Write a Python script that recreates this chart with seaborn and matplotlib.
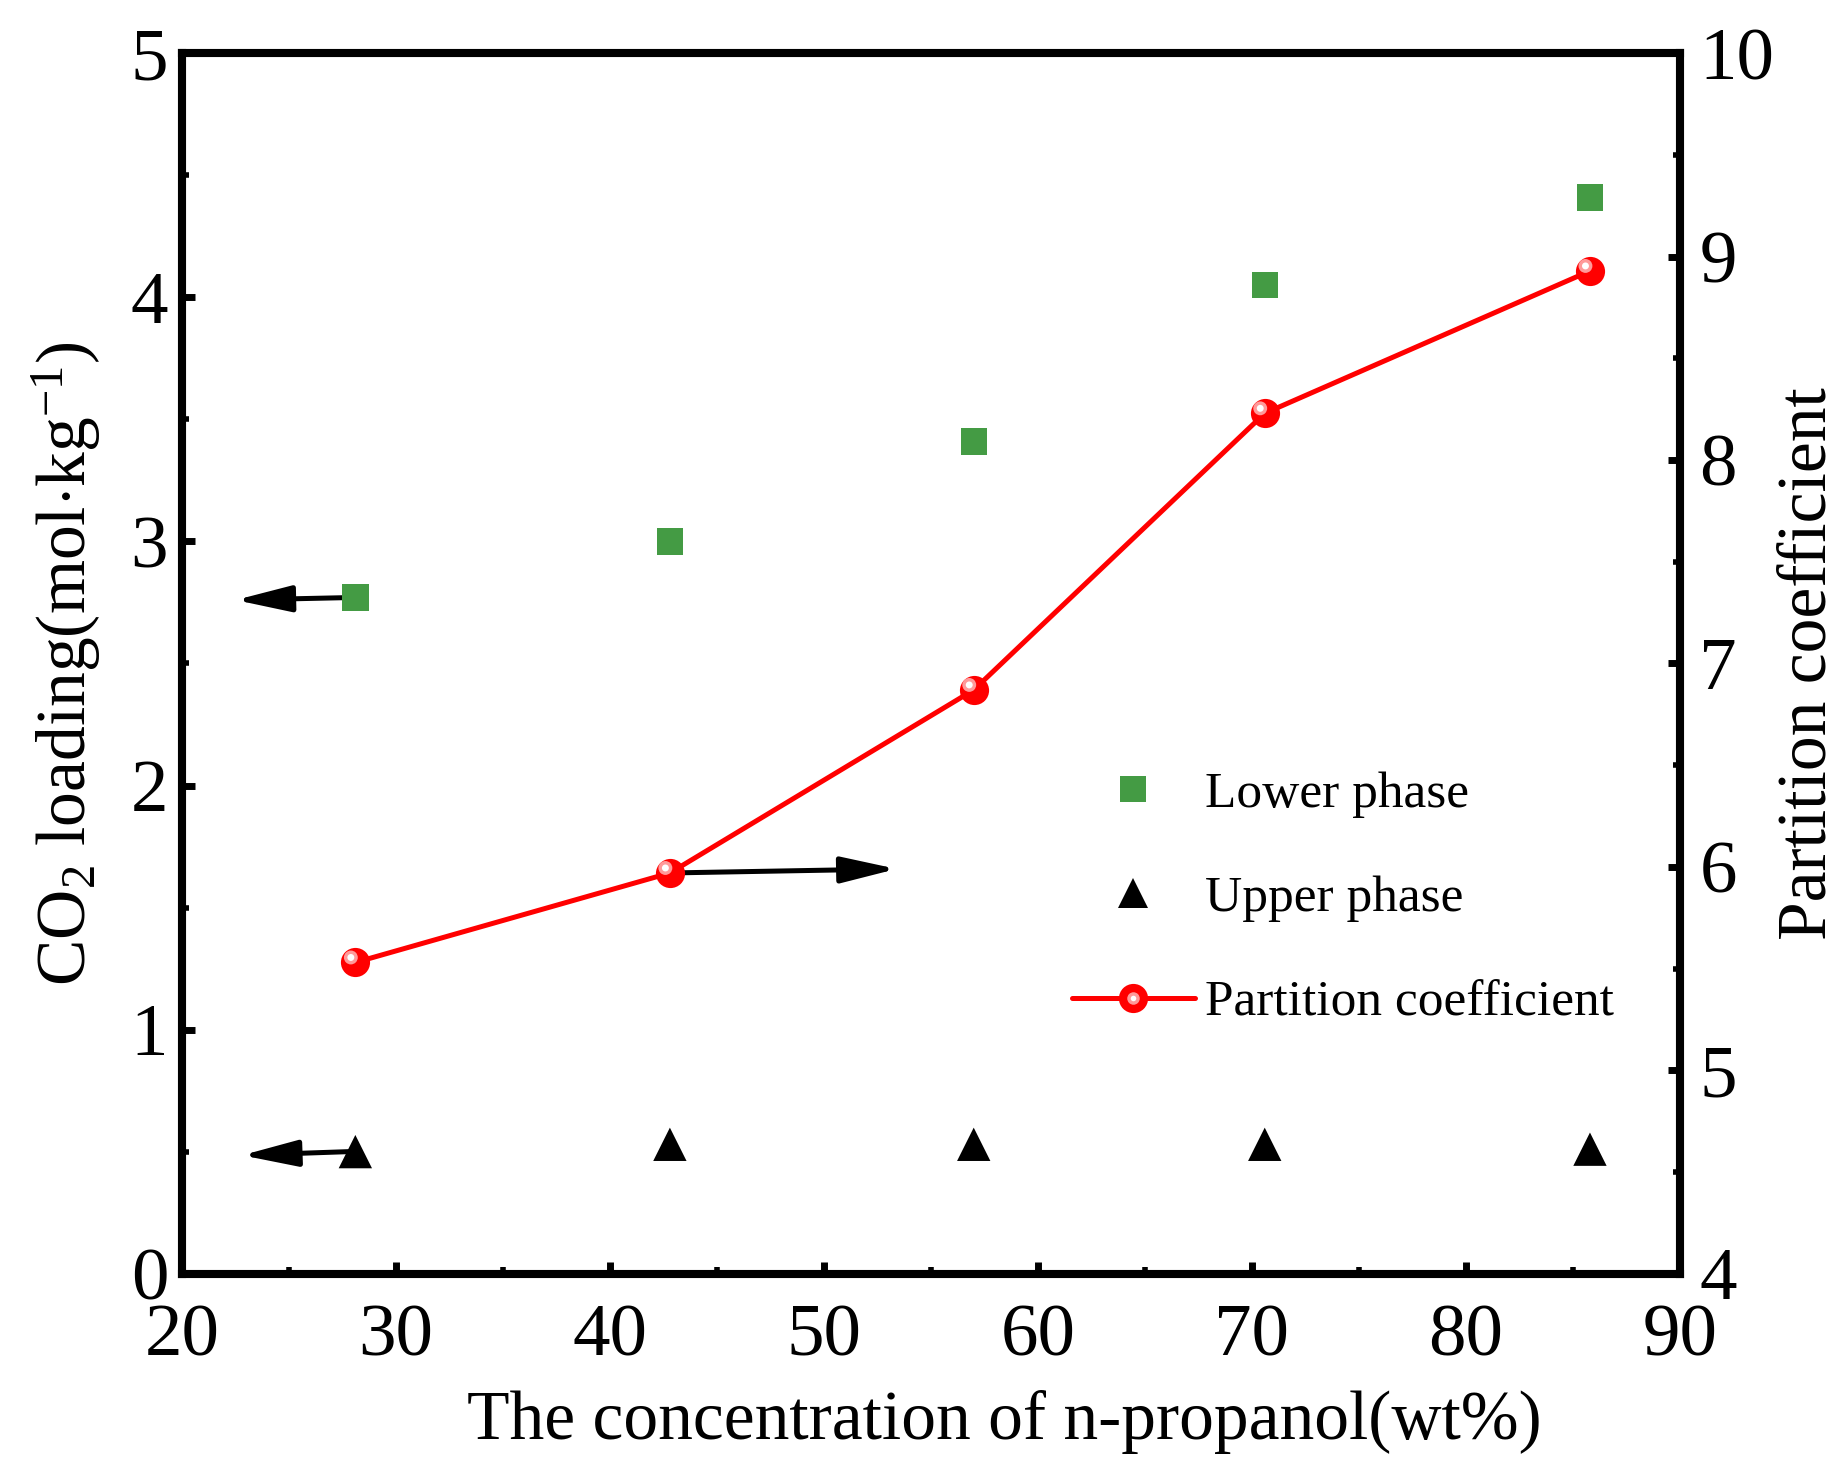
import seaborn as sns
import matplotlib.pyplot as plt
import matplotlib.transforms as mtransforms
from matplotlib.lines import Line2D
from matplotlib.legend_handler import HandlerTuple
from matplotlib.ticker import MultipleLocator
import pandas as pd

sns.set_style("ticks", {'axes.edgecolor': 'black', 'text.color': 'black',
                        'xtick.color': 'black', 'ytick.color': 'black',
                        'axes.labelcolor': 'black'})
plt.rcParams['font.family'] = ['Liberation Serif', 'DejaVu Serif']
plt.rcParams['mathtext.fontset'] = 'custom'
plt.rcParams['mathtext.rm'] = 'Liberation Serif'
plt.rcParams['mathtext.it'] = 'Liberation Serif:italic'

# data
concentration = [28.1, 42.8, 57.0, 70.6, 85.8]
lower_phase = [2.77, 3.00, 3.41, 4.05, 4.41]
upper_phase = [0.50, 0.53, 0.53, 0.53, 0.51]
partition = [5.53, 5.97, 6.87, 8.23, 8.93]

# arrow tips (where each arrow points to)
arrow_tips_left = [(22.5, 2.76), (22.8, 0.485)]
arrow_tip_right = (53.4, 5.99)

df = pd.DataFrame({'conc': concentration, 'lower': lower_phase,
                   'upper': upper_phase, 'pc': partition})

green = '#449B44'
red = '#FF0000'

fig = plt.figure(figsize=(18.48, 14.81), dpi=100)
ax = fig.add_axes([0.0985, 0.14, 0.8105, 0.824])
ax2 = ax.twinx()

sns.scatterplot(data=df, x='conc', y='lower', marker='s', s=19**2, color=green,
                edgecolor='none', ax=ax, zorder=4, legend=False)
sns.scatterplot(data=df, x='conc', y='upper', marker='^', s=24**2, color='black',
                edgecolor='none', ax=ax, zorder=4, legend=False)
sns.lineplot(data=df, x='conc', y='pc', color=red, linewidth=3.6, marker='o',
             markersize=21, markeredgewidth=0, markerfacecolor=red, ax=ax2,
             zorder=3, legend=False)
# glossy highlight on the circles
shift = mtransforms.ScaledTranslation(-0.045, 0.05, fig.dpi_scale_trans)
ax2.scatter(df['conc'], df['pc'], s=10**2, color='#FF9A9A', edgecolor='none',
            transform=ax2.transData + shift, zorder=5)
ax2.scatter(df['conc'], df['pc'], s=5**2, color='white', edgecolor='none',
            transform=ax2.transData + shift, zorder=6)

# arrows pointing to the respective axes
arrow_kw = dict(arrowstyle='-|>,head_length=1.7,head_width=0.4', color='black',
                lw=3.6, mutation_scale=20, shrinkA=0, shrinkB=0)
for (tx, ty), yv in zip(arrow_tips_left, [lower_phase[0], upper_phase[0]]):
    ax.annotate('', xy=(tx, ty), xytext=(concentration[0] - 0.3, yv), arrowprops=arrow_kw, zorder=3)
ax2.annotate('', xy=arrow_tip_right, xytext=(concentration[1], partition[1]),
             arrowprops=arrow_kw, zorder=2)

ax.set_xlim(20, 90)
ax.set_ylim(0, 5)
ax2.set_ylim(4, 10)
ax.xaxis.set_major_locator(MultipleLocator(10))
ax.xaxis.set_minor_locator(MultipleLocator(5))
ax.yaxis.set_major_locator(MultipleLocator(1))
ax.yaxis.set_minor_locator(MultipleLocator(0.5))
ax2.yaxis.set_major_locator(MultipleLocator(1))
ax2.yaxis.set_minor_locator(MultipleLocator(0.5))

for a in (ax, ax2):
    a.tick_params(which='major', direction='in', length=9, width=5, labelsize=54, pad=10)
    a.tick_params(which='minor', direction='in', length=5, width=4)
    for sp in a.spines.values():
        sp.set_linewidth(5.8)
ax.tick_params(which='both', top=False, right=False)
ax.tick_params(axis='x', which='major', pad=22)
ax2.tick_params(which='both', left=False, right=True)
ax2.tick_params(axis='y', which='major', pad=14)

ax.set_xlabel('The concentration of n-propanol(wt%)', fontsize=50)
ax.xaxis.set_label_coords(0.549, -0.095)
ax.set_ylabel(r'CO$_2$ loading(mol$\cdot$kg$^{-1}$)', fontsize=50, labelpad=20)
ax2.set_ylabel('Partition coefficient', fontsize=50, labelpad=2)

h_low = Line2D([], [], linestyle='none', marker='s', markersize=19, color=green, markeredgewidth=0)
h_up = Line2D([], [], linestyle='none', marker='^', markersize=22, color='black', markeredgewidth=0)
h_pc = Line2D([], [], color=red, linewidth=3.6, marker='o', markersize=21, markeredgewidth=0)
h_hi = Line2D([], [], linestyle='none', marker='o', markersize=9, color='#FF9A9A', markeredgewidth=0)
h_wh = Line2D([], [], linestyle='none', marker='o', markersize=4, color='white', markeredgewidth=0)
ax2.legend([h_low, h_up, (h_pc, h_hi, h_wh)], ['Lower phase', 'Upper phase', 'Partition coefficient'],
           handler_map={tuple: HandlerTuple(ndivide=1, pad=0)},
           loc='upper left', bbox_to_anchor=(0.563, 0.45), frameon=False,
           fontsize=37, handlelength=2.4, handletextpad=0.2, labelspacing=1.12)

fig.savefig('out.png', dpi=100)
